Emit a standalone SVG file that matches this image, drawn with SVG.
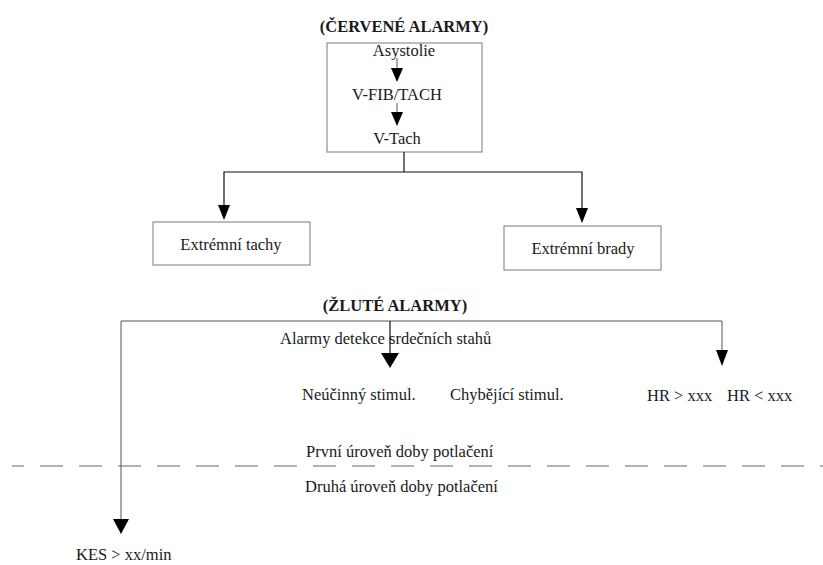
<svg xmlns="http://www.w3.org/2000/svg" width="823" height="565" viewBox="0 0 823 565">
  <style>
    .t { font-family: "Liberation Serif", "Times New Roman", serif; font-size: 16.5px; fill: #1a1a1a; }
    .h { font-weight: bold; }
    .box { fill: #ffffff; stroke: #7a7a7a; stroke-width: 1; }
    .ln { fill: none; stroke: #111; stroke-width: 1.2; }
    .lg { fill: none; stroke: #555; stroke-width: 1; }
    .hd { fill: #000; stroke: none; }
    .dash { fill: none; stroke: #666; stroke-width: 1.2; stroke-dasharray: 23 16; stroke-dashoffset: 11; }
  </style>
  <rect width="823" height="565" fill="#ffffff"/>

  <!-- red alarm section -->
  <text class="t h" x="404" y="32" text-anchor="middle">(ČERVENÉ ALARMY)</text>

  <g id="red-priority">
    <rect class="box" x="327" y="43" width="155" height="109"/>
    <text class="t" x="404" y="56" text-anchor="middle">Asystolie</text>
    <text class="t" x="397" y="100" text-anchor="middle">V-FIB/TACH</text>
    <text class="t" x="397" y="144" text-anchor="middle">V-Tach</text>
    <line class="lg" x1="397" y1="58" x2="397" y2="70"/>
    <polygon class="hd" points="391,68 403,68 397,82"/>
    <line class="lg" x1="397" y1="103" x2="397" y2="114"/>
    <polygon class="hd" points="391,112 403,112 397,126"/>
  </g>

  <g id="tachy">
    <rect class="box" x="153" y="222" width="157" height="43"/>
    <text class="t" x="231" y="250" text-anchor="middle">Extrémní tachy</text>
  </g>

  <g id="brady">
    <rect class="box" x="504" y="226" width="157" height="44"/>
    <text class="t" x="583" y="254" text-anchor="middle">Extrémní brady</text>
  </g>

  <!-- yellow alarm section -->
  <text class="t h" x="395" y="311" text-anchor="middle">(ŽLUTÉ ALARMY)</text>

  <g id="beat-detect">
    <text class="t" x="280" y="344">Alarmy detekce srdečních stahů</text>
  </g>
  <g id="stim-ineffective">
    <text class="t" x="302" y="400">Neúčinný stimul.</text>
  </g>
  <g id="stim-missing">
    <text class="t" x="450" y="400">Chybějící stimul.</text>
  </g>
  <g id="hr-limits">
    <text class="t" x="647" y="401">HR &gt; xxx</text>
    <text class="t" x="727" y="401">HR &lt; xxx</text>
  </g>
  <g id="level-1">
    <text class="t" x="306" y="457">První úroveň doby potlačení</text>
  </g>
  <g id="level-2">
    <text class="t" x="305" y="492">Druhá úroveň doby potlačení</text>
  </g>
  <g id="pvc">
    <text class="t" x="76" y="560">KES &gt; xx/min</text>
  </g>

  <!-- suppression level divider -->
  <line class="dash" x1="12" y1="466" x2="823" y2="466"/>

  <g id="connectors">
    <!-- red branch -->
    <polyline class="ln" points="404,152 404,172"/>
    <polyline class="ln" points="224,208 224,172 582,172 582,210"/>
    <polygon class="hd" points="218,205 230,205 224,220"/>
    <polygon class="hd" points="576,208 588,208 582,223"/>

    <!-- yellow branch -->
    <polyline class="lg" points="121,522 121,321 722,321 722,352"/>
    <line class="ln" x1="390" y1="321" x2="390" y2="355"/>
    <polygon class="hd" points="381,353 399,353 390,368"/>
    <polygon class="hd" points="716,350 728,350 722,366"/>
    <polygon class="hd" points="113,519 129,519 121,534"/>
  </g>
</svg>
